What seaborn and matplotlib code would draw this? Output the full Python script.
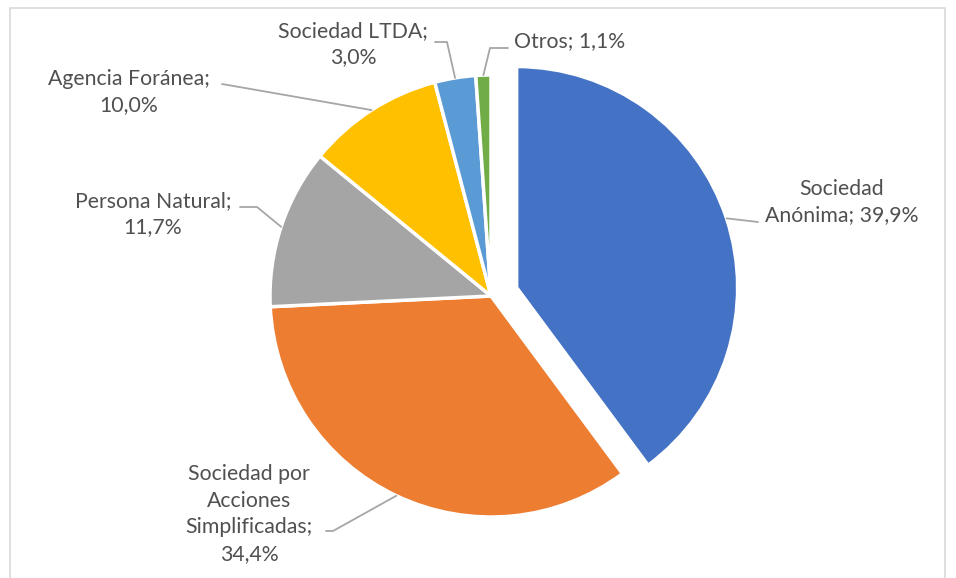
"""Pie chart: distribución por tipo de sociedad."""
import numpy as np
import matplotlib
matplotlib.use("Agg")
import matplotlib.pyplot as plt
import seaborn as sns
from matplotlib.patches import Rectangle

# data
categories = ["Sociedad Anónima", "Sociedad por Acciones Simplificadas", "Persona Natural",
              "Agencia Foránea", "Sociedad LTDA", "Otros"]
shares = [39.9, 34.4, 11.7, 10.0, 3.0, 1.1]
label_texts = ["Sociedad\nAnónima; 39,9%", "Sociedad por\nAcciones\nSimplificadas;\n34,4%",
               "Persona Natural;\n11,7%", "Agencia Foránea;\n10,0%", "Sociedad LTDA;\n3,0%",
               "Otros; 1,1%"]
colors = ["#4472C4", "#ED7D31", "#A5A5A5", "#FFC000", "#5B9BD5", "#70AD47"]

# layout (pixel space, y up)
W, H = 956, 578
CX, CY, R = 491, 282, 221
EXPLODE = 27
label_pos = [(842, 376), (249, 64), (153, 364), (129, 486), (353, 534), (570, 537)]
elbow_pos = [(758, 356), (333, 47), (257, 371), (222, 494), (447, 536), (490, 530)]

sns.set_theme(style="white")
plt.rcParams["font.family"] = ["Lato", "DejaVu Sans"]

fig = plt.figure(figsize=(W / 100, H / 100), dpi=100)
ax = fig.add_axes([0, 0, 1, 1])
ax.set_xlim(0, W)
ax.set_ylim(0, H)
ax.set_aspect("equal")
ax.axis("off")

# chart frame
ax.add_patch(Rectangle((10, -20), 935, H - 8 + 20, fill=False, edgecolor="#D9D9D9", lw=1.2))

explode = [EXPLODE] + [0] * (len(shares) - 1)
ax.pie(shares, colors=colors, startangle=90, counterclock=False, radius=R, center=(CX, CY),
       explode=explode, wedgeprops=dict(edgecolor="white", linewidth=2.5))
ax.set_xlim(0, W)
ax.set_ylim(0, H)

# leader lines from wedge mid-angle
fr = np.array(shares) / sum(shares)
start = 90 - 360 * np.concatenate([[0], np.cumsum(fr)[:-1]])
mid = np.deg2rad(start - 180 * fr)
tails = [0, -7, -17, 0, -12, 18]
for i, m in enumerate(mid):
    cx, cy = CX + explode[i] * np.cos(m), CY + explode[i] * np.sin(m)
    px, py = cx + R * np.cos(m), cy + R * np.sin(m)
    ex, ey = elbow_pos[i]
    pts = [(px, py), (ex, ey)]
    if tails[i]:
        pts.append((ex + tails[i], ey))
    xs, ys = zip(*pts)
    ax.plot(xs, ys, color="#A6A6A6", lw=1.3)
    ax.text(label_pos[i][0], label_pos[i][1], label_texts[i], ha="center", va="center",
            fontsize=15.3, color="#505050", linespacing=1.42)

fig.savefig("out.png", dpi=100)
